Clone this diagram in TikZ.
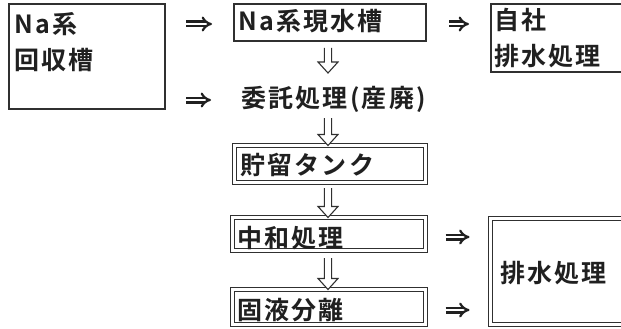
\documentclass[tikz,border=0pt]{standalone}
\usepackage{fontspec}
\newfontfamily\jp[LetterSpace=9,BoldFont={Noto Sans CJK JP Bold}]{Noto Sans CJK JP}
\usetikzlibrary{arrows.meta,calc}
\definecolor{ink}{HTML}{202020}
\definecolor{rule}{HTML}{303030}
\tikzset{
  box/.style={draw=rule, line width=1.4pt, inner sep=0pt, outer sep=0pt, anchor=north west},
  dbox/.style={draw=rule, line width=1.2pt, double=white, double distance=2.2pt, inner sep=0pt, outer sep=0pt, anchor=north west},
  lbl/.style={inner sep=0pt, anchor=west, text=ink, font=\jp\bfseries\fontsize{25}{30}\selectfont, text height=21pt, text depth=3pt},
  imp/.style={draw=ink, line width=2.2pt, double=white, double distance=2.6pt, -{Implies}},
  hollow/.style={draw=rule, line width=1.1pt, fill=white, line join=miter,
    to path={let \p1=(\tikztostart), \p2=(\tikztotarget) in
      (\x1-3.6pt,\y1) -- (\x1-3.6pt,\y2+11pt) -- (\x1-10pt,\y2+11pt) -- (\x2,\y2)
      -- (\x1+10pt,\y2+11pt) -- (\x1+3.6pt,\y2+11pt) -- (\x1+3.6pt,\y1) \tikztonodes}}
}
\begin{document}
\begin{tikzpicture}[x=1pt,y=-1pt]
\useasboundingbox[fill=white] (0,0) rectangle (621,329);
\clip (0,0) rectangle (621,329);
% boxes
\node[box, minimum width=156pt, minimum height=105pt] (A) at (9,4) {};
\node[box, minimum width=192pt, minimum height=37pt] (B) at (234,4) {};
\node[box, minimum width=150pt, minimum height=68pt] (C) at (491,4) {};
\node[dbox, minimum width=191pt, minimum height=37pt] (D) at (234.5,145.5) {};
\node[dbox, minimum width=193pt, minimum height=33pt] (E) at (232.5,217.5) {};
\node[dbox, minimum width=193pt, minimum height=35pt] (F) at (232.5,289.5) {};
\node[dbox, minimum width=152pt, minimum height=106pt] (G) at (490.5,218.5) {};
% texts
\node[lbl] (tA1) at (14,25) {Na系};
\node[lbl] (tA2) at (14,61) {回収槽};
\node[lbl] (tB) at (238,22) {Na系現水槽};
\node[lbl] (tC1) at (494,21) {自社};
\node[lbl] (tC2) at (494,57) {排水処理};
\node[lbl] (tK) at (241,98) {委託処理(産廃)};
\node[lbl] (tD) at (240,165) {貯留タンク};
\node[lbl] (tE) at (237,238) {中和処理};
\node[lbl] (tF) at (237,310) {固液分離};
\node[lbl] (tG) at (500,273) {排水処理};
% column for vertical arrows
\coordinate (col) at (328,0);
% double arrows
\draw[imp, shorten <=21pt, shorten >=22pt] (A.east |- 0,24) -- (B.west |- 0,24);
\draw[imp, shorten <=21pt, shorten >=30pt] (A.east |- 0,100) -- (tK.west |- 0,100);
\draw[imp, shorten <=23pt, shorten >=22pt] (B.east |- 0,24) -- (C.west |- 0,24);
\draw[imp, shorten <=20pt, shorten >=21pt] (E.east |- 0,237) -- (G.west |- 0,237);
\draw[imp, shorten <=20pt, shorten >=21pt] (F.east |- 0,310) -- (G.west |- 0,310);
% hollow down arrows
\draw[hollow] (col |- 0,48) to (col |- 0,73);
\draw[hollow] (col |- 0,118) to (D.north -| col);
\draw[hollow] (col |- 0,188) to (E.north -| col);
\draw[hollow] (col |- 0,258) to (F.north -| col);
\end{tikzpicture}
\end{document}
